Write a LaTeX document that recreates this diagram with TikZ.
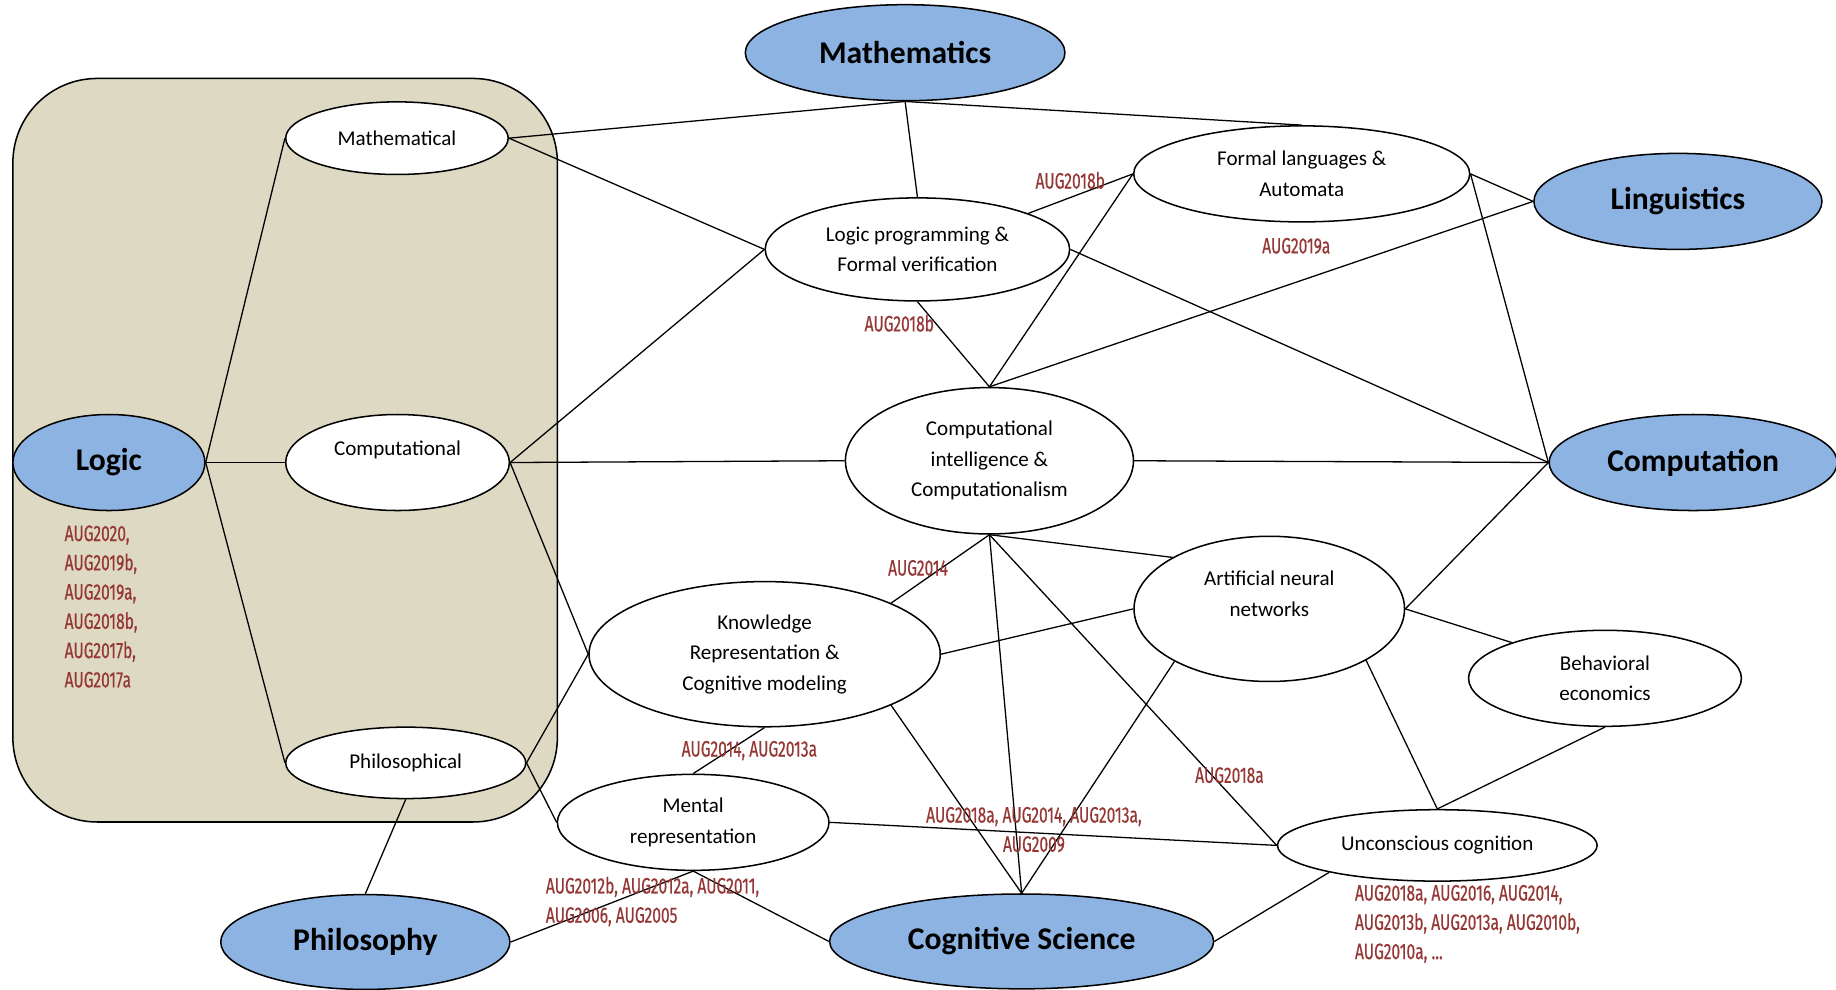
\documentclass[tikz,border=0pt]{standalone}
\usepackage{fontspec}
\setmainfont{Carlito}
\newfontfamily\reffont[FakeStretch=0.7, FakeBold=0.4]{Fira Sans}
\usetikzlibrary{shapes.geometric}
\definecolor{fieldblue}{HTML}{8DB3E2}
\definecolor{tanbg}{HTML}{DDD9C3}
\definecolor{refred}{HTML}{953735}
\begin{document}
\begin{tikzpicture}[x=1pt,y=-1pt,
  subnode/.style={ellipse, draw=black, line width=1.3pt, fill=white, inner sep=0pt, align=center, font=\fontsize{18}{26}\selectfont},
  fieldnode/.style={ellipse, draw=black, line width=1.3pt, fill=fieldblue, inner sep=0pt, font=\fontsize{27}{32}\selectfont\bfseries},
  link/.style={line width=1.1pt},
  reflabel/.style={text=refred, font=\fontsize{19}{25}\selectfont\reffont, inner sep=0pt, align=center}]
\useasboundingbox (0,0) rectangle (1568,845);
\fill[white] (0,0) rectangle (1568,845);
% group box
\draw[line width=1.3pt, fill=tanbg, rounded corners=72pt] (11,67) rectangle (476,702);

% nodes
\node[fieldnode, minimum width=273pt, minimum height=82pt] (maths) at (773,45) {Mathematics};
\node[fieldnode, minimum width=164pt, minimum height=82pt] (logic) at (93,395) {Logic};
\node[fieldnode, minimum width=247pt, minimum height=81pt] (philosophy) at (312,804.5) {Philosophy};
\node[fieldnode, minimum width=246pt, minimum height=82pt] (ling) at (1433,172) {Linguistics};
\node[fieldnode, minimum width=246pt, minimum height=82pt] (comp) at (1446,395) {Computation};
\node[fieldnode, minimum width=328pt, minimum height=81pt] (cog) at (872.5,804) {Cognitive Science};

\node[subnode, minimum width=190pt, minimum height=62pt] (mathl) at (339,118) {Mathematical};
\node[subnode, minimum width=191pt, minimum height=82pt,
  label={[font=\fontsize{18}{26}\selectfont, yshift=11pt]center:Computational}] (compl) at (339.5,395) {};
\node[subnode, minimum width=205pt, minimum height=61pt] (philo) at (346.5,651.5) {Philosophical};
\node[subnode, minimum width=260pt, minimum height=88pt] (lp) at (783.5,213) {Logic programming \&\\Formal verification};
\node[subnode, minimum width=287pt, minimum height=82pt] (fl) at (1111.7,148.5) {Formal languages \&\\Automata};
\node[subnode, minimum width=246pt, minimum height=125pt] (ci) at (845,393.5) {Computational\\intelligence \&\\Computationalism};
\node[subnode, minimum width=231pt, minimum height=124pt,
  label={[font=\fontsize{18}{26}\selectfont, align=center, yshift=13pt]center:Artificial neural\\networks}] (ann) at (1084,520) {};
\node[subnode, minimum width=233pt, minimum height=82pt] (be) at (1370.7,579.3) {Behavioral\\economics};
\node[subnode, minimum width=300pt, minimum height=124pt] (kr) at (653,558.7) {Knowledge\\Representation \&\\Cognitive modeling};
\node[subnode, minimum width=232pt, minimum height=82pt] (mr) at (592,702.3) {Mental\\representation};
\node[subnode, minimum width=273pt, minimum height=61pt] (uc) at (1227.5,722) {Unconscious cognition};

% connectors
\draw[link] (logic.east) -- (mathl.west);
\draw[link] (logic.east) -- (compl.west);
\draw[link] (logic.east) -- (philo.west);
\draw[link] (mathl.east) -- (maths.south);
\draw[link] (mathl.east) -- (lp.west);
\draw[link] (maths.south) -- (lp.north);
\draw[link] (maths.south) -- (fl.north);
\draw[link] (compl.east) -- (lp.west);
\draw[link] (compl.east) -- (ci.west);
\draw[link] (compl.east) -- (kr.west);
\draw[link] (philo.east) -- (kr.west);
\draw[link] (philo.east) -- (mr.west);
\draw[link] (philo.south) -- (philosophy.north);
\draw[link] (lp.18) -- (fl.west);
\draw[link] (lp.south) -- (ci.north);
\draw[link] (fl.west) -- (ci.north);
\draw[link] (ling.west) -- (ci.north);
\draw[link] (fl.east) -- (ling.west);
\draw[link] (fl.east) -- (comp.west);
\draw[link] (lp.east) -- (comp.west);
\draw[link] (ci.east) -- (comp.west);
\draw[link] (comp.west) -- (ann.east);
\draw[link] (ci.south) -- (kr.22);
\draw[link] (ci.south) -- (ann.152);
\draw[link] (ci.south) -- (cog.north);
\draw[link] (ci.south) -- (uc.west);
\draw[link] (kr.east) -- (ann.west);
\draw[link] (kr.south) -- (mr.north);
\draw[link] (kr.-22) -- (cog.north);
\draw[link] (ann.209) -- (cog.north);
\draw[link] (ann.east) -- (be.159);
\draw[link] (ann.-28) -- (uc.north);
\draw[link] (be.south) -- (uc.north);
\draw[link] (mr.east) -- (uc.west);
\draw[link] (mr.south) -- (philosophy.east);
\draw[link] (mr.south) -- (cog.west);
\draw[link] (uc.194) -- (cog.east);

% reference labels
\node[reflabel, anchor=west, align=left] (refLogic) at (55,518) {AUG2020,\\AUG2019b,\\AUG2019a,\\AUG2018b,\\AUG2017b,\\AUG2017a};
\node[reflabel] (refLpFl) at (914,154) {AUG2018b};
\node[reflabel] (refFl) at (1107,210) {AUG2019a};
\node[reflabel] (refLpCi) at (768,276) {AUG2018b};
\node[reflabel] (refCiKr) at (784,485) {AUG2014};
\node[reflabel] (refKrMr) at (640,641) {AUG2014, AUG2013a};
\node[reflabel] (refMrUc) at (883,708.5) {AUG2018a, AUG2014, AUG2013a,\\AUG2009};
\node[reflabel] (refCiUc) at (1050,662) {AUG2018a};
\node[reflabel, anchor=west, align=left] (refMr) at (466,770) {AUG2012b, AUG2012a, AUG2011,\\AUG2006, AUG2005};
\node[reflabel, anchor=west, align=left] (refUc) at (1157,789) {AUG2018a, AUG2016, AUG2014,\\AUG2013b, AUG2013a, AUG2010b,\\AUG2010a, ...};
\end{tikzpicture}
\end{document}
